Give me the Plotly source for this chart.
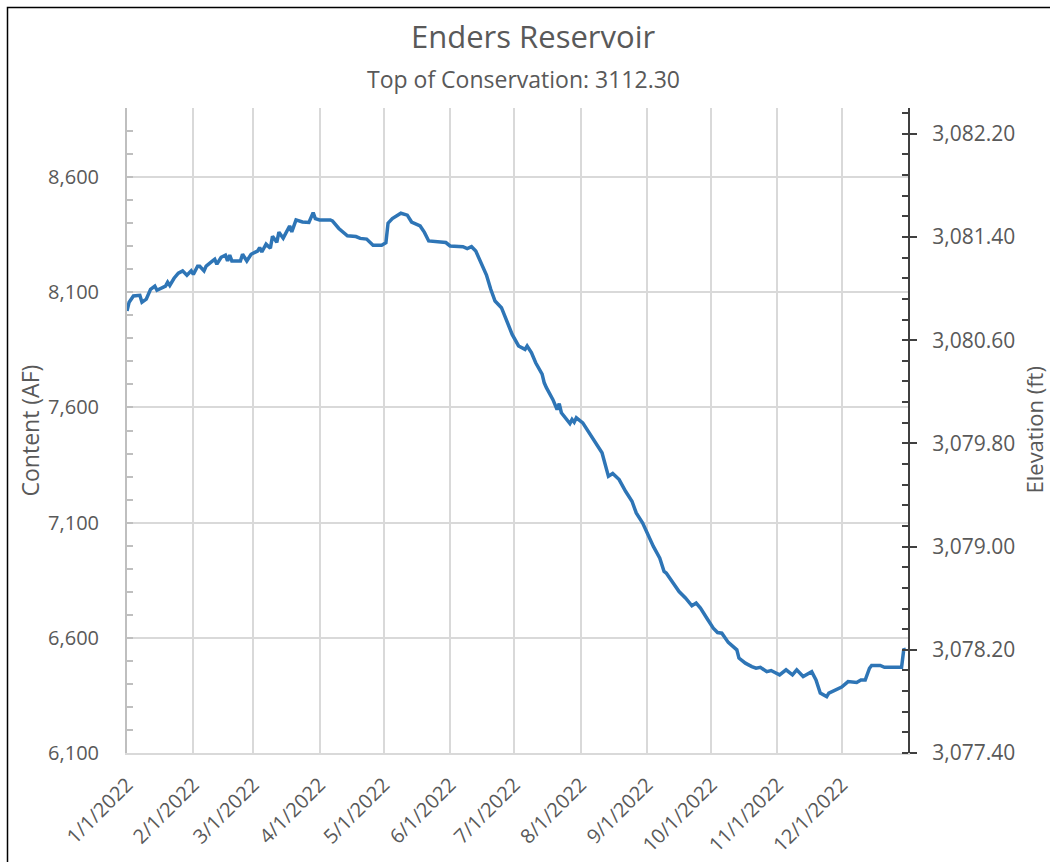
import plotly.graph_objects as go

# ---- data ----
dates = [
    "2022-01-01", "2022-01-02", "2022-01-04", "2022-01-07", "2022-01-08", "2022-01-10",
    "2022-01-12", "2022-01-14", "2022-01-15", "2022-01-19", "2022-01-20", "2022-01-21",
    "2022-01-23", "2022-01-25", "2022-01-27", "2022-01-29", "2022-01-31", "2022-02-01",
    "2022-02-03", "2022-02-04", "2022-02-06", "2022-02-07", "2022-02-10", "2022-02-11",
    "2022-02-12", "2022-02-14", "2022-02-16", "2022-02-17", "2022-02-18", "2022-02-19",
    "2022-02-23", "2022-02-24", "2022-02-26", "2022-02-28", "2022-03-03", "2022-03-04",
    "2022-03-05", "2022-03-07", "2022-03-09", "2022-03-10", "2022-03-12", "2022-03-13",
    "2022-03-15", "2022-03-17", "2022-03-18", "2022-03-19", "2022-03-21", "2022-03-24",
    "2022-03-26", "2022-03-27", "2022-03-29", "2022-03-30", "2022-04-01", "2022-04-06",
    "2022-04-07", "2022-04-10", "2022-04-14", "2022-04-18", "2022-04-20", "2022-04-23",
    "2022-04-26", "2022-04-30", "2022-05-02", "2022-05-03", "2022-05-05", "2022-05-08",
    "2022-05-09", "2022-05-12", "2022-05-14", "2022-05-18", "2022-05-20", "2022-05-22",
    "2022-05-26", "2022-05-30", "2022-06-01", "2022-06-07", "2022-06-09", "2022-06-11",
    "2022-06-13", "2022-06-16", "2022-06-18", "2022-06-20", "2022-06-22", "2022-06-25",
    "2022-06-27", "2022-06-30", "2022-07-03", "2022-07-06", "2022-07-07", "2022-07-09",
    "2022-07-11", "2022-07-14", "2022-07-15", "2022-07-16", "2022-07-19", "2022-07-21",
    "2022-07-22", "2022-07-23", "2022-07-27", "2022-07-28", "2022-07-29", "2022-07-30",
    "2022-08-02", "2022-08-06", "2022-08-11", "2022-08-14", "2022-08-16", "2022-08-19",
    "2022-08-22", "2022-08-25", "2022-08-27", "2022-08-30", "2022-09-02", "2022-09-04",
    "2022-09-07", "2022-09-09", "2022-09-10", "2022-09-13", "2022-09-16", "2022-09-19",
    "2022-09-22", "2022-09-24", "2022-09-26", "2022-09-29", "2022-10-02", "2022-10-04",
    "2022-10-06", "2022-10-09", "2022-10-13", "2022-10-14", "2022-10-17", "2022-10-20",
    "2022-10-22", "2022-10-24", "2022-10-27", "2022-10-29", "2022-11-02", "2022-11-05",
    "2022-11-08", "2022-11-10", "2022-11-13", "2022-11-17", "2022-11-19", "2022-11-21",
    "2022-11-24", "2022-11-25", "2022-11-28", "2022-12-01", "2022-12-04", "2022-12-08",
    "2022-12-10", "2022-12-12", "2022-12-14", "2022-12-15", "2022-12-19", "2022-12-21",
    "2022-12-29", "2022-12-30", "2022-12-31",
]
content_af = [
    8019, 8057, 8084, 8087, 8057, 8070,
    8113, 8127, 8109, 8127, 8144, 8130,
    8161, 8183, 8193, 8174, 8193, 8178,
    8213, 8213, 8193, 8214, 8236, 8243,
    8222, 8252, 8261, 8236, 8261, 8236,
    8236, 8265, 8236, 8265, 8279, 8294,
    8275, 8309, 8291, 8343, 8317, 8361,
    8335, 8374, 8388, 8362, 8414, 8405,
    8405, 8403, 8446, 8420, 8414, 8414,
    8410, 8377, 8345, 8342, 8334, 8331,
    8304, 8304, 8315, 8400, 8420, 8439,
    8443, 8435, 8405, 8388, 8360, 8323,
    8319, 8316, 8301, 8298, 8290, 8298,
    8279, 8214, 8175, 8113, 8062, 8033,
    7983, 7917, 7867, 7852, 7867, 7838,
    7794, 7745, 7707, 7686, 7635, 7591,
    7617, 7577, 7530, 7548, 7536, 7555,
    7533, 7475, 7403, 7301, 7313, 7287,
    7236, 7193, 7142, 7098, 7035, 6997,
    6946, 6888, 6881, 6838, 6801, 6773,
    6739, 6751, 6729, 6685, 6642, 6623,
    6620, 6580, 6548, 6512, 6490, 6475,
    6468, 6472, 6453, 6458, 6439, 6461,
    6439, 6461, 6432, 6453, 6417, 6360,
    6345, 6360, 6371, 6386, 6410, 6406,
    6417, 6417, 6468, 6480, 6480, 6472,
    6472, 6548, 6551,
]

month_ticks = ["2022-01-01", "2022-02-01", "2022-03-01", "2022-04-01", "2022-05-01",
               "2022-06-01", "2022-07-01", "2022-08-01", "2022-09-01", "2022-10-01",
               "2022-11-01", "2022-12-01"]
month_labels = ["1/1/2022", "2/1/2022", "3/1/2022", "4/1/2022", "5/1/2022", "6/1/2022",
                "7/1/2022", "8/1/2022", "9/1/2022", "10/1/2022", "11/1/2022", "12/1/2022"]

content_range = [6100, 8900]
content_ticks = [6100, 6600, 7100, 7600, 8100, 8600]
elev_range = [3077.4, 3082.4]
elev_ticks = [3077.4, 3078.2, 3079.0, 3079.8, 3080.6, 3081.4, 3082.2]

title_text = "Enders Reservoir"
subtitle_text = "Top of Conservation: 3112.30"

# ---- figure ----
FONT = "Open Sans"
GREY = "#595959"
GRID = "#d9d9d9"

W, H = 1050, 862
L, R, T, B = 127, 142, 108, 109
pw, ph = W - L - R, H - T - B


def px_x(px):
    return (px - L) / pw


def px_y(py):
    return (H - B - py) / ph


fig = go.Figure()
fig.add_trace(go.Scatter(
    x=dates, y=content_af, mode="lines",
    line=dict(color="#2e75b6", width=3.5),
    showlegend=False, hoverinfo="x+y",
))
# placeholder so the secondary (elevation) axis is drawn
fig.add_trace(go.Scatter(
    x=[dates[0]], y=[elev_range[0]], yaxis="y2", mode="lines",
    line=dict(color="rgba(0,0,0,0)"), showlegend=False, hoverinfo="skip",
))

fig.update_layout(
    width=W, height=H,
    margin=dict(l=L, r=R, t=T, b=B, autoexpand=False),
    paper_bgcolor="white", plot_bgcolor="white",
    font=dict(family=FONT, color=GREY, size=20),
    xaxis=dict(
        type="date",
        range=["2022-01-01", "2023-01-01"],
        tickmode="array", tickvals=month_ticks, ticktext=month_labels,
        tickangle=-45,
        showgrid=True, gridcolor=GRID, gridwidth=1.5,
        showline=True, linecolor=GRID, linewidth=2,
        ticks="", zeroline=False,
        tickfont=dict(size=20, color=GREY),
        ticklabelstandoff=10,
    ),
    yaxis=dict(
        range=content_range,
        tickmode="array", tickvals=content_ticks,
        tickformat=",d",
        showgrid=True, gridcolor=GRID, gridwidth=1.5,
        showline=True, linecolor="#bfbfbf", linewidth=2,
        ticks="inside", ticklen=6, tickcolor="#bfbfbf", tickwidth=1.5,
        minor=dict(dtick=100, tick0=6100, ticks="inside", ticklen=6,
                   tickcolor="#bfbfbf", tickwidth=1.5, showgrid=False),
        zeroline=False,
        tickfont=dict(size=20, color=GREY),
        ticklabelstandoff=22,
    ),
    yaxis2=dict(
        overlaying="y", side="right", anchor="x",
        range=elev_range,
        tickmode="array", tickvals=elev_ticks,
        tickformat=",.2f",
        showgrid=False,
        showline=True, linecolor="#404040", linewidth=2,
        ticks="outside", ticklen=7, tickcolor="#404040", tickwidth=2,
        minor=dict(dtick=0.16, tick0=3077.4, ticks="inside", ticklen=6,
                   tickcolor="#404040", tickwidth=1.5, showgrid=False),
        zeroline=False,
        tickfont=dict(size=21, color=GREY),
        ticklabelstandoff=11,
    ),
    annotations=[
        dict(text=title_text, xref="paper", yref="paper",
             x=px_x(533), y=px_y(36), xanchor="center", yanchor="middle",
             showarrow=False, font=dict(size=31, color=GREY, family=FONT)),
        dict(text=subtitle_text, xref="paper", yref="paper",
             x=px_x(523), y=px_y(79), xanchor="center", yanchor="middle",
             showarrow=False, font=dict(size=23, color=GREY, family=FONT)),
        dict(text="Content (AF)", xref="paper", yref="paper",
             x=px_x(29), y=0.5, xanchor="center", yanchor="middle", textangle=-90,
             showarrow=False, font=dict(size=23, color=GREY, family=FONT)),
        dict(text="Elevation (ft)", xref="paper", yref="paper",
             x=px_x(1033), y=0.5, xanchor="center", yanchor="middle", textangle=-90,
             showarrow=False, font=dict(size=22, color=GREY, family=FONT)),
    ],
    shapes=[
        dict(type="rect", xref="paper", yref="paper",
             x0=px_x(7.5), y0=px_y(880), x1=px_x(1070), y1=px_y(7.5),
             line=dict(color="#000000", width=1.5), fillcolor="rgba(0,0,0,0)",
             layer="below"),
    ],
)

fig.write_html("out.html")
